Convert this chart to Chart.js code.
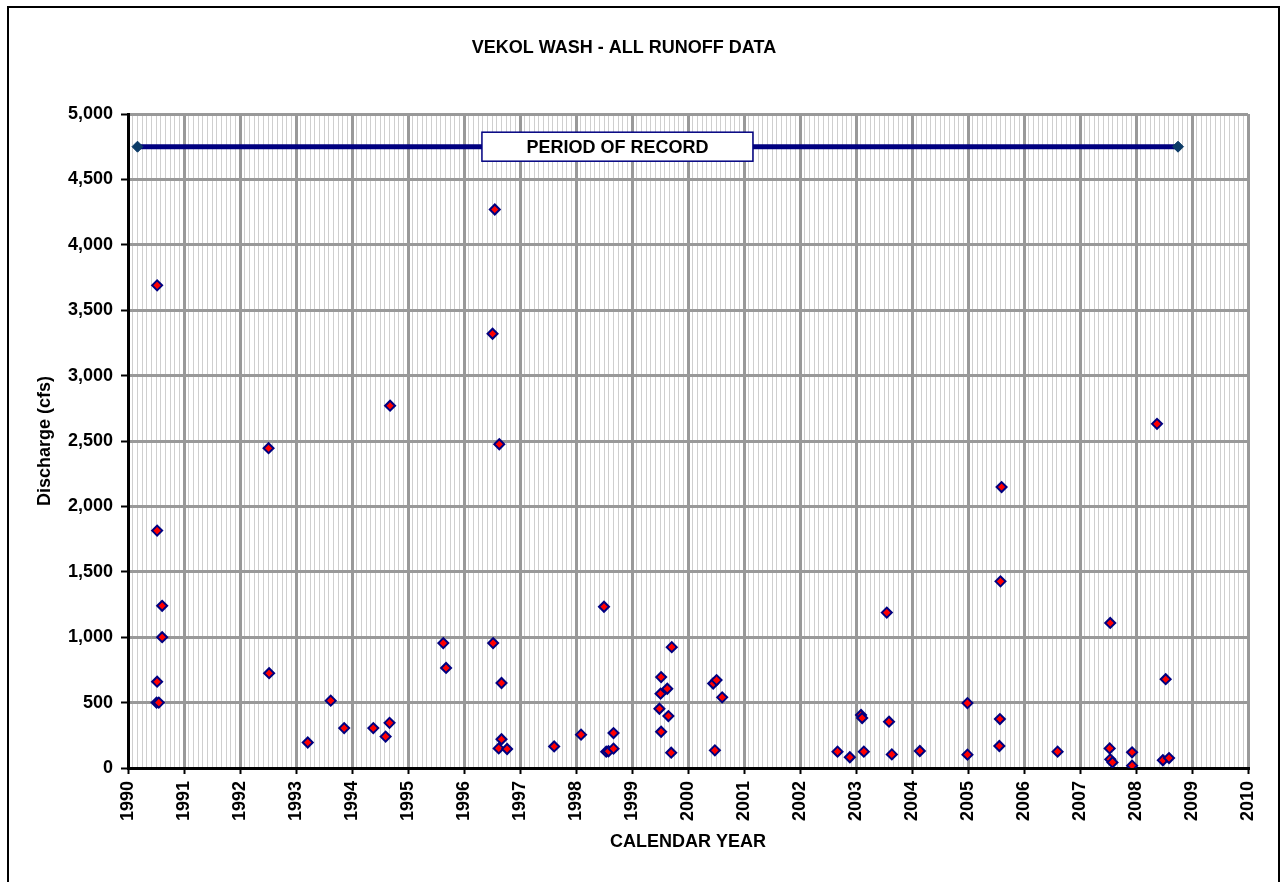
<!DOCTYPE html>
<html>
<head>
<meta charset="utf-8">
<title>Vekol Wash - All Runoff Data</title>
<script src="https://cdn.jsdelivr.net/npm/chart.js@4.4.1/dist/chart.umd.min.js"></script>
<style>
    body { margin: 0; background: #fff; }
    canvas { display: block; }
</style>
</head>
<body>
<canvas id="runoffChart" width="1288" height="882"></canvas>
<script>
// runoff events: decimal year and peak discharge (cfs)
const eventYears = [
    1990.52, 1990.52, 1990.61, 1990.61, 1990.52, 1990.51, 1990.55,
    1992.51, 1992.52, 1993.21, 1993.62, 1993.86, 1994.38, 1994.60, 1994.67, 1994.68,
    1995.63, 1995.68, 1996.52, 1996.51, 1996.55, 1996.63, 1996.67, 1996.67, 1996.62, 1996.77,
    1997.61, 1998.09, 1998.50, 1998.54, 1998.58, 1998.67, 1998.67,
    1999.52, 1999.51, 1999.63, 1999.49, 1999.65, 1999.52, 1999.71, 1999.70,
    2000.45, 2000.51, 2000.61, 2000.48,
    2002.67, 2002.89, 2003.09, 2003.11, 2003.14, 2003.55, 2003.59, 2003.64,
    2004.14, 2004.99, 2004.99, 2005.57, 2005.56, 2005.58, 2005.60, 2006.60,
    2007.54, 2007.53, 2007.54, 2007.58, 2007.93, 2007.93,
    2008.53, 2008.48, 2008.59, 2008.375
];
const dischargeCfs = [
    3690, 1815, 1240, 1000, 660, 500, 500,
    2445, 725, 195, 515, 305, 305, 240, 345, 2770,
    955, 765, 955, 3320, 4270, 2475, 650, 220, 150, 145,
    165, 255, 1233, 125, 128, 148, 267,
    695, 568, 606, 453, 397, 277, 924, 117,
    646, 672, 540, 135,
    125, 82, 405, 382, 125, 1188, 354, 104,
    130, 496, 102, 374, 168, 1427, 2148, 125,
    1109, 150, 66, 43, 120, 18,
    679, 59, 76, 2631
];

// period of record bar
const recordYears = [1990.17, 2008.75];
const recordLevel = [4750, 4750];
const recordLabel = 'PERIOD OF RECORD';
const recordLabelYear = 1998.74;

// axis ticks
const yearTicks = [1990, 1991, 1992, 1993, 1994, 1995, 1996, 1997, 1998, 1999, 2000,
                   2001, 2002, 2003, 2004, 2005, 2006, 2007, 2008, 2009, 2010];
const dischargeTicks = [0, 500, 1000, 1500, 2000, 2500, 3000, 3500, 4000, 4500, 5000];

const chartTitle = 'VEKOL WASH - ALL RUNOFF DATA';
const FONT = '"Liberation Sans", Arial, sans-serif';

Chart.defaults.font.family = FONT;
Chart.defaults.color = '#000';

// is this tick a whole year?
function isYearTick(value) {
    const yr = Math.round(value);
    return Math.abs(value - yr) < 1e-6 && yearTicks.includes(yr);
}

// frame, title and the period of record label
const decorations = {
    id: 'decorations',
    beforeDraw(chart) {
        const ctx = chart.ctx;
        ctx.save();
        ctx.fillStyle = '#fff';
        ctx.fillRect(0, 0, chart.width, chart.height);
        ctx.strokeStyle = '#000';
        ctx.lineWidth = 2;
        ctx.strokeRect(8, 7, 1271, 900);
        ctx.restore();
    },
    afterDatasetsDraw(chart) {
        const ctx = chart.ctx;
        const x = chart.scales.x;
        const y = chart.scales.y;
        ctx.save();
        ctx.font = 'bold 18px ' + FONT;
        ctx.fillStyle = '#000';
        ctx.textAlign = 'center';
        ctx.textBaseline = 'middle';
        ctx.fillText(chartTitle, 624, 48);

        // label box on top of the record line
        const cx = x.getPixelForValue(recordLabelYear);
        const cy = y.getPixelForValue(recordLevel[0]);
        const w = 271, h = 29;
        ctx.fillStyle = '#fff';
        ctx.fillRect(cx - w / 2, cy - h / 2, w, h);
        ctx.strokeStyle = '#000080';
        ctx.lineWidth = 1.5;
        ctx.strokeRect(cx - w / 2, cy - h / 2, w, h);
        ctx.fillStyle = '#000';
        ctx.fillText(recordLabel, cx, cy + 1);
        ctx.restore();
    }
};

const events = eventYears.map((yr, i) => ({ x: yr, y: dischargeCfs[i] }));
const record = recordYears.map((yr, i) => ({ x: yr, y: recordLevel[i] }));

new Chart(document.getElementById('runoffChart'), {
    type: 'scatter',
    data: {
        datasets: [
            {
                label: 'Period of record',
                data: record,
                showLine: true,
                borderColor: '#000080',
                borderWidth: 5,
                pointStyle: 'rectRot',
                pointRadius: 5.5,
                pointBackgroundColor: '#0b3a66',
                pointBorderColor: '#0b3a66',
                pointBorderWidth: 1
            },
            {
                label: 'Runoff events',
                data: events,
                pointStyle: 'rectRot',
                pointRadius: 5,
                pointBackgroundColor: '#ff0000',
                pointBorderColor: '#000080',
                pointBorderWidth: 2
            }
        ]
    },
    plugins: [decorations],
    options: {
        responsive: false,
        animation: false,
        layout: { padding: { left: 0, top: 114, right: 40, bottom: 0 } },
        plugins: {
            legend: { display: false },
            tooltip: { enabled: false }
        },
        scales: {
            x: {
                type: 'linear',
                min: yearTicks[0],
                max: yearTicks[yearTicks.length - 1],
                afterFit: scale => { scale.height = 114; },
                ticks: {
                    stepSize: 1 / 12,
                    autoSkip: false,
                    minRotation: 90,
                    maxRotation: 90,
                    padding: 7,
                    font: { size: 18, weight: 'bold' },
                    callback: value => isYearTick(value) ? String(Math.round(value)) : ''
                },
                grid: {
                    color: c => isYearTick(c.tick.value) ? '#999999' : '#cfcfcf',
                    lineWidth: c => isYearTick(c.tick.value) ? 3 : 1,
                    tickLength: 6,
                    tickWidth: 2,
                    tickColor: c => isYearTick(c.tick.value) ? '#000' : 'rgba(0,0,0,0)'
                },
                border: { display: true, color: '#000', width: 3 },
                title: {
                    display: true,
                    text: 'CALENDAR YEAR',
                    font: { size: 18, weight: 'bold' },
                    padding: { top: 0, bottom: 29 }
                }
            },
            y: {
                min: dischargeTicks[0],
                max: dischargeTicks[dischargeTicks.length - 1],
                afterFit: scale => { scale.width = 128; },
                ticks: {
                    stepSize: dischargeTicks[1] - dischargeTicks[0],
                    padding: 8,
                    font: { size: 18, weight: 'bold' },
                    callback: value => value.toLocaleString('en-US')
                },
                grid: {
                    color: '#999999',
                    lineWidth: 3,
                    tickLength: 7,
                    tickWidth: 2,
                    tickColor: '#000'
                },
                border: { display: true, color: '#000', width: 3 },
                title: {
                    display: true,
                    text: 'Discharge (cfs)',
                    font: { size: 18, weight: 'bold' },
                    padding: { top: 34, bottom: 0 }
                }
            }
        }
    }
});
</script>
</body>
</html>
